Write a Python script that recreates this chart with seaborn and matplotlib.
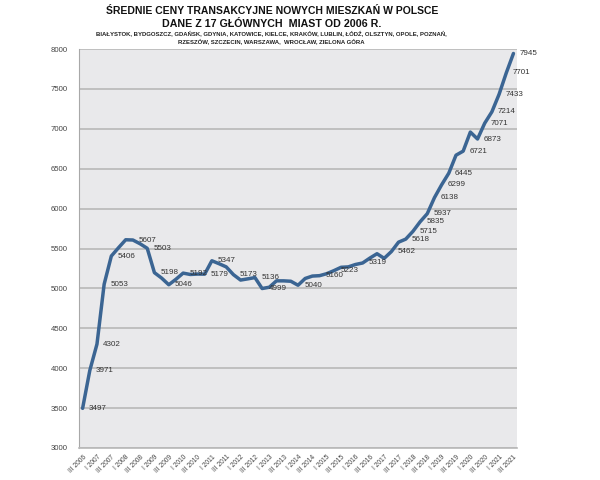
import pandas as pd
import matplotlib.pyplot as plt
import seaborn as sns

# kwartały od III 2006 do III 2021
kwartaly = []
for rok in range(2006, 2022):
    for q in ["I", "II", "III", "IV"]:
        kwartaly.append(f"{q} {rok}")
kwartaly = kwartaly[2:-1]

ceny = [3497, 3971, 4302, 5053, 5406, 5510, 5610, 5607, 5560, 5503,
        5198, 5130, 5046, 5115, 5192, 5175, 5180, 5179, 5347, 5310,
        5270, 5173, 5105, 5120, 5136, 4999, 5015, 5095, 5095, 5090,
        5040, 5125, 5155, 5160, 5185, 5223, 5265, 5270, 5300, 5319,
        5380, 5435, 5377, 5462, 5580, 5618, 5715, 5835, 5937, 6138,
        6299, 6445, 6670, 6721, 6960, 6873, 7071, 7214, 7433, 7701, 7945]

# które punkty mają etykietę z wartością
etykiety = [0, 1, 2, 3, 4, 7, 9, 10, 12, 14, 17, 18, 21, 24, 25, 30, 33, 35,
            39, 43, 45, 46, 47, 48, 49, 50, 51, 53, 55, 56, 57, 58, 59, 60]

tytul = "ŚREDNIE CENY TRANSAKCYJNE NOWYCH MIESZKAŃ W POLSCE"
podtytul = "DANE Z 17 GŁÓWNYCH  MIAST OD 2006 R."
miasta = ["BIAŁYSTOK, BYDGOSZCZ, GDAŃSK, GDYNIA, KATOWICE, KIELCE, KRAKÓW, LUBLIN, ŁÓDŹ, OLSZTYN, OPOLE, POZNAŃ,",
          "RZESZÓW, SZCZECIN, WARSZAWA,  WROCŁAW, ZIELONA GÓRA"]

df = pd.DataFrame({"nr": range(len(ceny)), "kwartal": kwartaly, "cena": ceny})

sns.set_style("white")
plt.rcParams['font.family'] = ['Liberation Sans Narrow', 'Liberation Sans', 'DejaVu Sans']

fig = plt.figure(figsize=(6, 4.8), dpi=100)
ax = fig.add_axes([0.1317, 0.0667, 0.73, 0.831])
ax.set_facecolor("#e9e9eb")

sns.lineplot(data=df, x="nr", y="cena", color="#3b6593", linewidth=2.5, ax=ax, zorder=3)

for i in etykiety:
    ax.annotate(str(ceny[i]), (i, ceny[i]), xytext=(4.5, 0), textcoords="offset points",
                va="center", ha="left", fontsize=5.8, color="#333333", zorder=4)

ax.set_xlim(-0.5, len(ceny) - 0.5)
ax.set_ylim(3000, 8000)
ax.set_yticks(range(3000, 8001, 500))
ax.yaxis.grid(True, color="#b8b8b8", linewidth=1.2)
ax.set_axisbelow(True)
ax.set_xticks(df["nr"][::2])
ax.set_xticklabels(df["kwartal"][::2], rotation=45, ha="right", rotation_mode="anchor",
                   fontsize=4.8, color="#444444")
ax.tick_params(axis="y", labelsize=5.6, labelcolor="#444444", length=0, pad=8)
ax.tick_params(axis="x", length=0, pad=4)
ax.set_xlabel("")
ax.set_ylabel("")
for s in ["top", "right"]:
    ax.spines[s].set_visible(False)
ax.spines["left"].set_color("#a8a8a8")
ax.spines["bottom"].set_color("#b8b8b8")
ax.spines["bottom"].set_linewidth(1.2)

fig.text(0.453, 0.977, tytul, ha="center", va="center", fontsize=7.5, fontweight="bold", color="#111111")
fig.text(0.453, 0.950, podtytul, ha="center", va="center", fontsize=7.7, fontweight="bold", color="#111111")
fig.text(0.453, 0.930, miasta[0], ha="center", va="center", fontsize=4.3, fontweight="bold", color="#222222")
fig.text(0.453, 0.914, miasta[1], ha="center", va="center", fontsize=4.3, fontweight="bold", color="#222222")

plt.savefig("out.png", dpi=100)
